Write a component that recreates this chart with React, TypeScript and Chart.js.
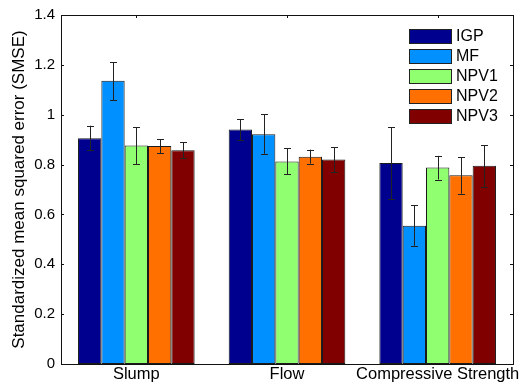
import React, { useEffect, useRef } from "react";
import { Chart, registerables } from "chart.js";

Chart.register(...registerables);

const categories = ["Slump", "Flow", "Compressive Strength"];
const seriesNames = ["IGP", "MF", "NPV1", "NPV2", "NPV3"];
const seriesColors = ["#00008F", "#0090FF", "#90FF70", "#FF7000", "#800000"];

const igp = [0.906, 0.941, 0.806];
const igpLow = [0.857, 0.898, 0.661];
const igpHigh = [0.956, 0.982, 0.95];

const mf = [1.136, 0.922, 0.555];
const mfLow = [1.059, 0.843, 0.474];
const mfHigh = [1.211, 1.002, 0.637];

const npv1 = [0.877, 0.812, 0.788];
const npv1Low = [0.801, 0.761, 0.74];
const npv1High = [0.949, 0.865, 0.835];

const npv2 = [0.875, 0.831, 0.757];
const npv2Low = [0.845, 0.804, 0.683];
const npv2High = [0.902, 0.86, 0.83];

const npv3 = [0.857, 0.82, 0.795];
const npv3Low = [0.826, 0.77, 0.712];
const npv3High = [0.89, 0.869, 0.877];

const yTickLabels = ["0", "0.2", "0.4", "0.6", "0.8", "1", "1.2", "1.4"];
const yTitle = "Standardized mean squared error (SMSE)";

const values = [igp, mf, npv1, npv2, npv3];
const lows = [igpLow, mfLow, npv1Low, npv2Low, npv3Low];
const highs = [igpHigh, mfHigh, npv1High, npv2High, npv3High];

const FONT = "'Liberation Sans', Arial, Helvetica, sans-serif";

const errorBarPlugin = {
  id: "errorBars",
  afterDatasetsDraw(chart: any) {
    const ctx = chart.ctx;
    const y = chart.scales.y;
    ctx.save();
    ctx.strokeStyle = "#222";
    ctx.lineWidth = 1;
    chart.data.datasets.forEach((ds: any, di: number) => {
      const meta = chart.getDatasetMeta(di);
      meta.data.forEach((bar: any, i: number) => {
        const x = Math.round(bar.x) + 0.5;
        const yl = y.getPixelForValue(ds.errLow[i]);
        const yh = y.getPixelForValue(ds.errHigh[i]);
        const cap = 3.5;
        ctx.beginPath();
        ctx.moveTo(x, yl);
        ctx.lineTo(x, yh);
        ctx.moveTo(x - cap, Math.round(yl) + 0.5);
        ctx.lineTo(x + cap, Math.round(yl) + 0.5);
        ctx.moveTo(x - cap, Math.round(yh) + 0.5);
        ctx.lineTo(x + cap, Math.round(yh) + 0.5);
        ctx.stroke();
      });
    });
    ctx.restore();
  },
};

const framePlugin = {
  id: "frame",
  afterDraw(chart: any) {
    const ctx = chart.ctx;
    const { left, right, top, bottom } = chart.chartArea;
    const y = chart.scales.y;
    const x = chart.scales.x;
    ctx.save();
    ctx.strokeStyle = "#111";
    ctx.lineWidth = 1;
    ctx.strokeRect(Math.round(left) + 0.5, Math.round(top) + 0.5, Math.round(right - left), Math.round(bottom - top));
    ctx.beginPath();
    const tl = 3;
    y.ticks.forEach((t: any) => {
      const py = Math.round(y.getPixelForValue(t.value)) + 0.5;
      ctx.moveTo(left, py);
      ctx.lineTo(left + tl, py);
      ctx.moveTo(right, py);
      ctx.lineTo(right - tl, py);
    });
    categories.forEach((_c, i) => {
      const px = Math.round(x.getPixelForValue(i)) + 0.5;
      ctx.moveTo(px, top);
      ctx.lineTo(px, top + tl);
    });
    ctx.stroke();
    ctx.restore();
  },
};

const legendPlugin = {
  id: "customLegend",
  afterDraw(chart: any) {
    const ctx = chart.ctx;
    const sx = 409.5;
    const sw = 42;
    const sh = 14;
    const y0 = 29.5;
    const pitch = 20;
    ctx.save();
    ctx.font = `16px ${FONT}`;
    ctx.textBaseline = "middle";
    ctx.textAlign = "left";
    chart.data.datasets.forEach((ds: any, i: number) => {
      const yy = y0 + i * pitch;
      ctx.fillStyle = ds.backgroundColor;
      ctx.fillRect(sx, yy, sw, sh);
      ctx.strokeStyle = "#222";
      ctx.lineWidth = 1;
      ctx.strokeRect(sx, yy, sw, sh);
      ctx.fillStyle = "#000";
      ctx.fillText(ds.label, 456, yy + sh / 2 + 0.5);
    });
    ctx.restore();
  },
};

export default function App() {
  const canvasRef = useRef<HTMLCanvasElement | null>(null);

  useEffect(() => {
    if (!canvasRef.current) return;
    const chart = new Chart(canvasRef.current, {
      type: "bar",
      data: {
        labels: categories,
        datasets: seriesNames.map((name, i) => ({
          label: name,
          data: values[i],
          errLow: lows[i],
          errHigh: highs[i],
          backgroundColor: seriesColors[i],
          borderColor: "#1a1a1a",
          borderWidth: 1,
          borderSkipped: false,
          categoryPercentage: 0.774,
          barPercentage: 1,
        })) as any,
      },
      options: {
        animation: false,
        responsive: false,
        devicePixelRatio: 1,
        layout: { padding: { top: 7, right: 11, left: 0, bottom: 0 } },
        plugins: {
          legend: { display: false },
          tooltip: { enabled: false },
        },
        scales: {
          x: {
            grid: { display: false, drawTicks: false },
            border: { display: false },
            ticks: {
              color: "#000",
              font: { family: FONT, size: 16.5 },
              padding: 1,
              maxRotation: 0,
              autoSkip: false,
            },
            afterFit(scale: any) {
              scale.height = 23;
            },
          },
          y: {
            min: 0,
            max: 1.4,
            grid: { display: false, drawTicks: false },
            border: { display: false },
            ticks: {
              stepSize: 0.2,
              color: "#000",
              font: { family: FONT, size: 15 },
              padding: 6,
              callback: (_v: any, idx: number) => yTickLabels[idx],
            },
            title: {
              display: true,
              text: yTitle,
              color: "#000",
              font: { family: FONT, size: 17 },
              padding: { top: 9, bottom: 0 },
            },
            afterFit(scale: any) {
              scale.width = 61;
            },
          },
        },
      } as any,
      plugins: [errorBarPlugin, framePlugin, legendPlugin],
    });
    return () => chart.destroy();
  }, []);

  return (
    <div style={{ position: "fixed", left: 0, top: 0, width: 524, height: 387, background: "#fff" }}>
      <canvas ref={canvasRef} width={524} height={387} style={{ width: 524, height: 387 }} />
    </div>
  );
}
